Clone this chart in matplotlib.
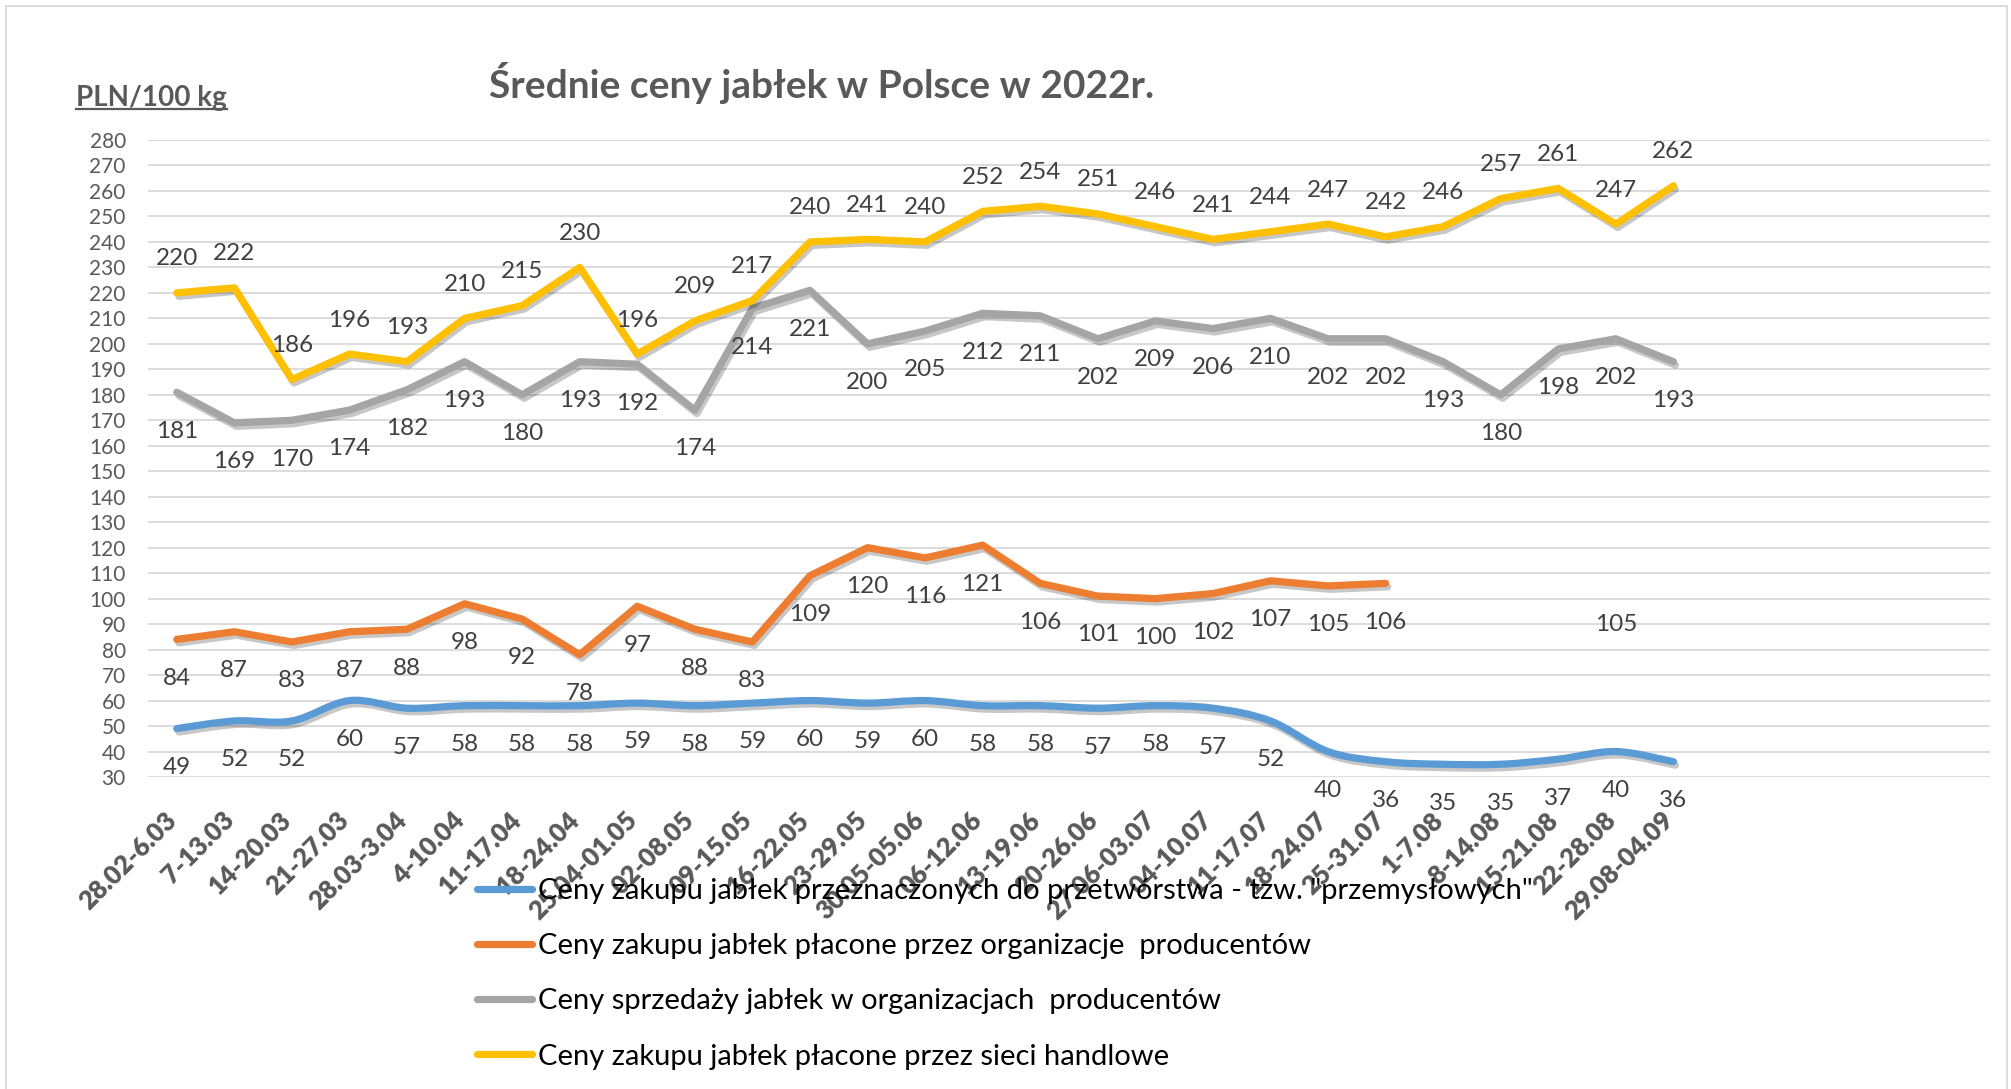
import matplotlib
matplotlib.use("Agg")
import matplotlib.pyplot as plt
import matplotlib.patheffects as pe
from matplotlib.path import Path
from matplotlib.patches import PathPatch, Rectangle
from matplotlib.lines import Line2D
import numpy as np

plt.rcParams['font.family'] = ['Lato', 'DejaVu Sans']

weeks = ["28.02-6.03", "7-13.03", "14-20.03", "21-27.03", "28.03-3.04", "4-10.04",
         "11-17.04", "18-24.04", "25.04-01.05", "02-08.05", "09-15.05", "16-22.05",
         "23-29.05", "30.05-05.06", "06-12.06", "13-19.06", "20-26.06", "27.06-03.07",
         "04-10.07", "11-17.07", "18-24.07", "25-31.07", "1-7.08", "8-14.08",
         "15-21.08", "22-28.08", "29.08-04.09"]

przemyslowe = [49, 52, 52, 60, 57, 58, 58, 58, 59, 58, 59, 60, 59, 60, 58, 58, 57, 58,
               57, 52, 40, 36, 35, 35, 37, 40, 36]
org_zakup = [84, 87, 83, 87, 88, 98, 92, 78, 97, 88, 83, 109, 120, 116, 121, 106, 101, 100,
             102, 107, 105, 106, None, None, None, 105, None]
org_sprzedaz = [181, 169, 170, 174, 182, 193, 180, 193, 192, 174, 214, 221, 200, 205, 212,
                211, 202, 209, 206, 210, 202, 202, 193, 180, 198, 202, 193]
sieci = [220, 222, 186, 196, 193, 210, 215, 230, 196, 209, 217, 240, 241, 240, 252, 254, 251,
         246, 241, 244, 247, 242, 246, 257, 261, 247, 262]

labels = ['Ceny zakupu jabłek przeznaczonych do przetwórstwa - tzw. "przemysłowych"',
          'Ceny zakupu jabłek płacone przez organizacje  producentów',
          'Ceny sprzedaży jabłek w organizacjach  producentów',
          'Ceny zakupu jabłek płacone przez sieci handlowe']
colors = ['#5B9BD5', '#ED7D31', '#A5A5A5', '#FFC000']

n_slots = 32  # the category axis has room for more weeks than are filled

W, H = 2011, 1089
fig = plt.figure(figsize=(W / 100, H / 100), dpi=100)
ax = fig.add_axes([148 / W, 1 - 777 / H, (1990 - 148) / W, (777 - 140) / H])

shadow = [pe.SimpleLineShadow(offset=(1.5, -2.5), alpha=0.22), pe.Normal()]
lw = 5.2


def smooth_path(xs, ys):
    # Excel-style smoothed line: cubic bezier segments through each point
    pts = np.column_stack([xs, ys]).astype(float)
    verts = [pts[0]]
    codes = [Path.MOVETO]
    for i in range(len(pts) - 1):
        p0 = pts[i - 1] if i > 0 else pts[i]
        p1, p2 = pts[i], pts[i + 1]
        p3 = pts[i + 2] if i + 2 < len(pts) else pts[i + 1]
        verts += [p1 + (p2 - p0) / 6, p2 - (p3 - p1) / 6, p2]
        codes += [Path.CURVE4] * 3
    return Path(verts, codes)


x = np.arange(len(weeks))
patch = PathPatch(smooth_path(x, przemyslowe), facecolor='none', edgecolor=colors[0],
                  lw=lw, capstyle='round', joinstyle='round', zorder=3)
patch.set_path_effects(shadow)
ax.add_patch(patch)

for vals, c in zip([org_zakup, org_sprzedaz, sieci], colors[1:]):
    y = np.array([np.nan if v is None else v for v in vals], dtype=float)
    ax.plot(x, y, color=c, lw=lw, solid_capstyle='round', solid_joinstyle='round',
            zorder=3, path_effects=shadow)

# data labels
for vals, off in [(przemyslowe, -28), (org_zakup, -28), (org_sprzedaz, -28), (sieci, 24.5)]:
    for i, v in enumerate(vals):
        if v is None:
            continue
        ax.annotate(str(v), (i, v), xytext=(0, off), textcoords='offset points',
                    ha='center', va='center', fontsize=17.5, color='#404040', zorder=5)

ax.set_xlim(-0.5, n_slots - 0.5)
ax.set_ylim(30, 280)
ax.set_yticks(range(30, 281, 10))
ax.yaxis.grid(True, color='#D9D9D9', lw=1.3)
ax.set_axisbelow(True)
for s in ax.spines.values():
    s.set_visible(False)
ax.tick_params(axis='y', length=0, pad=16, labelsize=15, labelcolor='#595959')
ax.set_xticks(x)
ax.set_xticklabels([])
ax.tick_params(axis='x', length=0)

# rotated category labels, top-right corner just below each week
for i, w in enumerate(weeks):
    ax.annotate(w, (i, 30), xytext=(3, -22), textcoords='offset points',
                rotation=45, ha='right', va='top', fontsize=18.5, fontweight='heavy',
                color='#595959', annotation_clip=False)

fig.text(822 / W, 1 - 83 / H, 'Średnie ceny jabłek w Polsce w 2022r.', ha='center',
         va='center', fontsize=28, fontweight='bold', color='#595959')

unit = fig.text(76 / W, 1 - 106 / H, 'PLN/100 kg', ha='left', va='baseline',
                fontsize=20, fontweight='bold', color='#595959')
fig.canvas.draw()
bb = unit.get_window_extent()
inv = fig.transFigure.inverted()
(ux0, uy), (ux1, _) = inv.transform([(bb.x0, (H - 106) - 3), (bb.x1, (H - 106) - 3)])
fig.add_artist(Line2D([ux0, ux1], [uy, uy], color='#595959', lw=1.6))

# chart border
fig.add_artist(Rectangle((6 / W, -0.02), (2007 - 6) / W, 1 - 6 / H + 0.02, fill=False,
                         edgecolor='#D9D9D9', lw=1.3))

handles = [Line2D([], [], color=c, lw=lw, solid_capstyle='round') for c in colors]
fig.legend(handles, labels, loc='upper left', bbox_to_anchor=(477 / W, 1 - 878 / H),
           frameon=False, fontsize=21, handlelength=1.9, handletextpad=0.2,
           labelspacing=1.0, borderpad=0, borderaxespad=0, labelcolor='black')

fig.savefig('out.png', dpi=100, facecolor='white')
